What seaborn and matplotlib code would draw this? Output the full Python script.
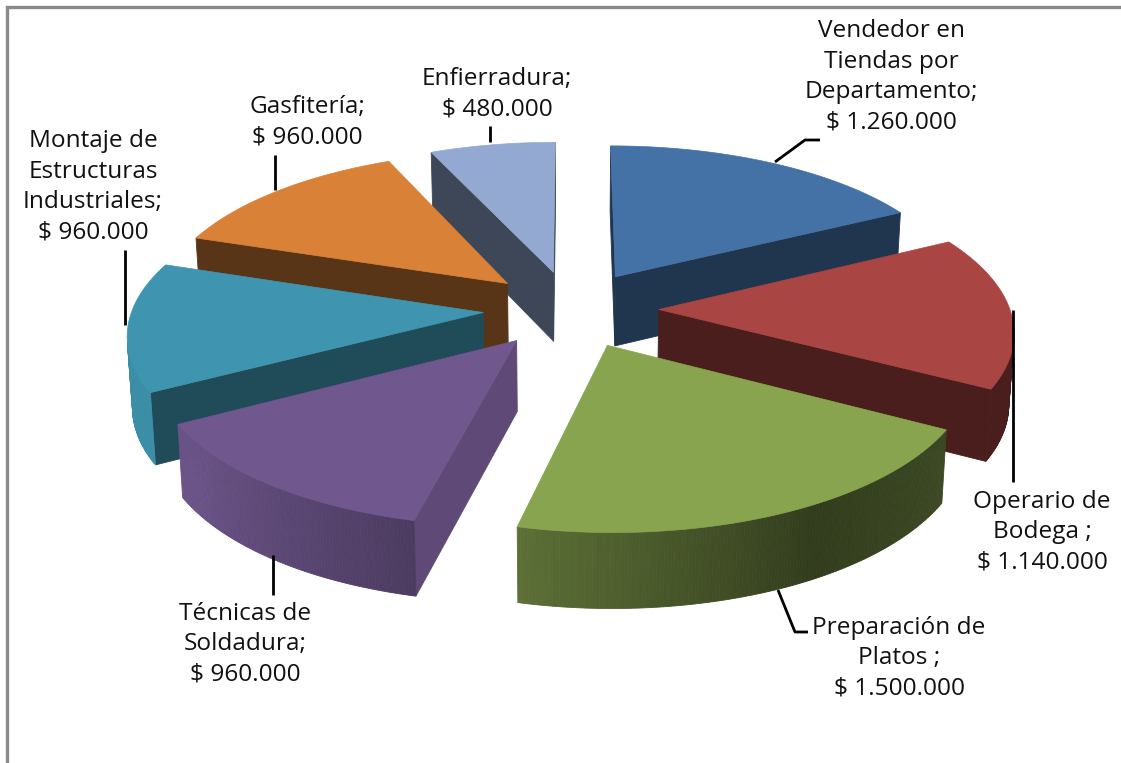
import numpy as np
import matplotlib
matplotlib.use("Agg")
import matplotlib.pyplot as plt
from matplotlib.patches import Polygon
import seaborn as sns

# ---- data ----
categories = ["Vendedor en\nTiendas por\nDepartamento;\n$ 1.260.000",
              "Operario de\nBodega ;\n$ 1.140.000",
              "Preparación de\nPlatos ;\n$ 1.500.000",
              "Técnicas de\nSoldadura;\n$ 960.000",
              "Montaje de\nEstructuras\nIndustriales;\n$ 960.000",
              "Gasfitería;\n$ 960.000",
              "Enfierradura;\n$ 480.000"]
values = [1260000, 1140000, 1500000, 960000, 960000, 960000, 480000]
colors = ["#4472A7", "#A94543", "#88A44F", "#70578E", "#3F95B0", "#D98137", "#93A9D1"]

# ---- styles ----
wall_shade = [0.47, 0.44, 0.5, 0.84, 0.5, 0.41, 0.42]
rim_ang = [40, 120, 150, 193, 235, 300]
rim_val = [0.42, 0.44, 0.37, 0.68, 0.95, 0.95]
draw_order = [6, 0, 5, 1, 4, 3, 2]
label_xy = [(891, 77), (1042, 532), (899, 658), (245, 644), (93, 187), (307, 122), (497, 94)]
leaders = [[(775, 162), (805, 140), (820, 140)],
           [(1013, 310), (1013, 482)],
           [(778, 590), (795, 632), (808, 632)],
           [(273, 555), (273, 595)],
           [(125, 325), (125, 250)],
           [(275, 190), (275, 155)],
           [(490, 142), (490, 126)]]
CX, CY, R, TILT, PERSP, EXPLODE, DEPTH = 571, 309, 351, 0.44, 0.123, 0.25, 70

sns.set_theme(style="white")
plt.rcParams["font.family"] = ["Open Sans", "DejaVu Sans"]
palette = sns.color_palette(colors)


def project(X, Y, z=0.0):
    s = 1.0 / (1.0 + PERSP * Y)
    return (CX + R * X * s * (1 - 0.012 * z),
            CY - R * Y * TILT * s + DEPTH * z * np.sqrt(s))


def shade(c, f):
    return tuple(min(1, v * f) for v in c)


fig = plt.figure(figsize=(11.21, 7.63), dpi=100, facecolor="white")
ax = fig.add_axes([0, 0, 1, 1])
ax.set_xlim(0, 1121)
ax.set_ylim(763, 0)
ax.axis("off")
ax.plot([7, 7, 1121], [763, 7, 7], color="#8a8a8a", lw=2.4, solid_joinstyle="miter")

fracs = np.array(values) / np.sum(values)
edges = np.concatenate([[0], np.cumsum(fracs)]) * 360

for i in draw_order:
    a0, a1 = edges[i], edges[i + 1]
    mid = np.radians((a0 + a1) / 2)
    ox, oy = EXPLODE * np.sin(mid), EXPLODE * np.cos(mid)
    th = np.radians(np.linspace(a0, a1, max(int(a1 - a0), 2) * 2 + 1))
    mx = np.concatenate([[ox], ox + np.sin(th)])
    my = np.concatenate([[oy], oy + np.cos(th)])
    top = np.column_stack(project(mx, my, 0))
    bot = np.column_stack(project(mx, my, 1))
    n = len(top)
    for j in range(n):
        k = (j + 1) % n
        q = np.array([top[j], top[k], bot[k], bot[j]])
        area = 0.5 * np.sum(q[:, 0] * np.roll(q[:, 1], -1) - np.roll(q[:, 0], -1) * q[:, 1])
        if area >= 0:
            continue
        if j == 0 or k == 0:
            f = wall_shade[i]
        else:
            f = np.interp(np.degrees(th[j - 1]), rim_ang, rim_val)
        col = shade(palette[i], f)
        ax.add_patch(Polygon(q, closed=True, fc=col, ec=col, lw=0.6))
    ax.add_patch(Polygon(top, closed=True, fc=palette[i], ec=palette[i], lw=0.5))

for pts in leaders:
    xs, ys = zip(*pts)
    ax.plot(xs, ys, color="black", lw=2, solid_capstyle="butt")

for txt, (x, y) in zip(categories, label_xy):
    ax.text(x, y, txt, ha="center", va="center", fontsize=17.6, color="#111111", linespacing=1.36)

fig.savefig("out.png", dpi=100)
